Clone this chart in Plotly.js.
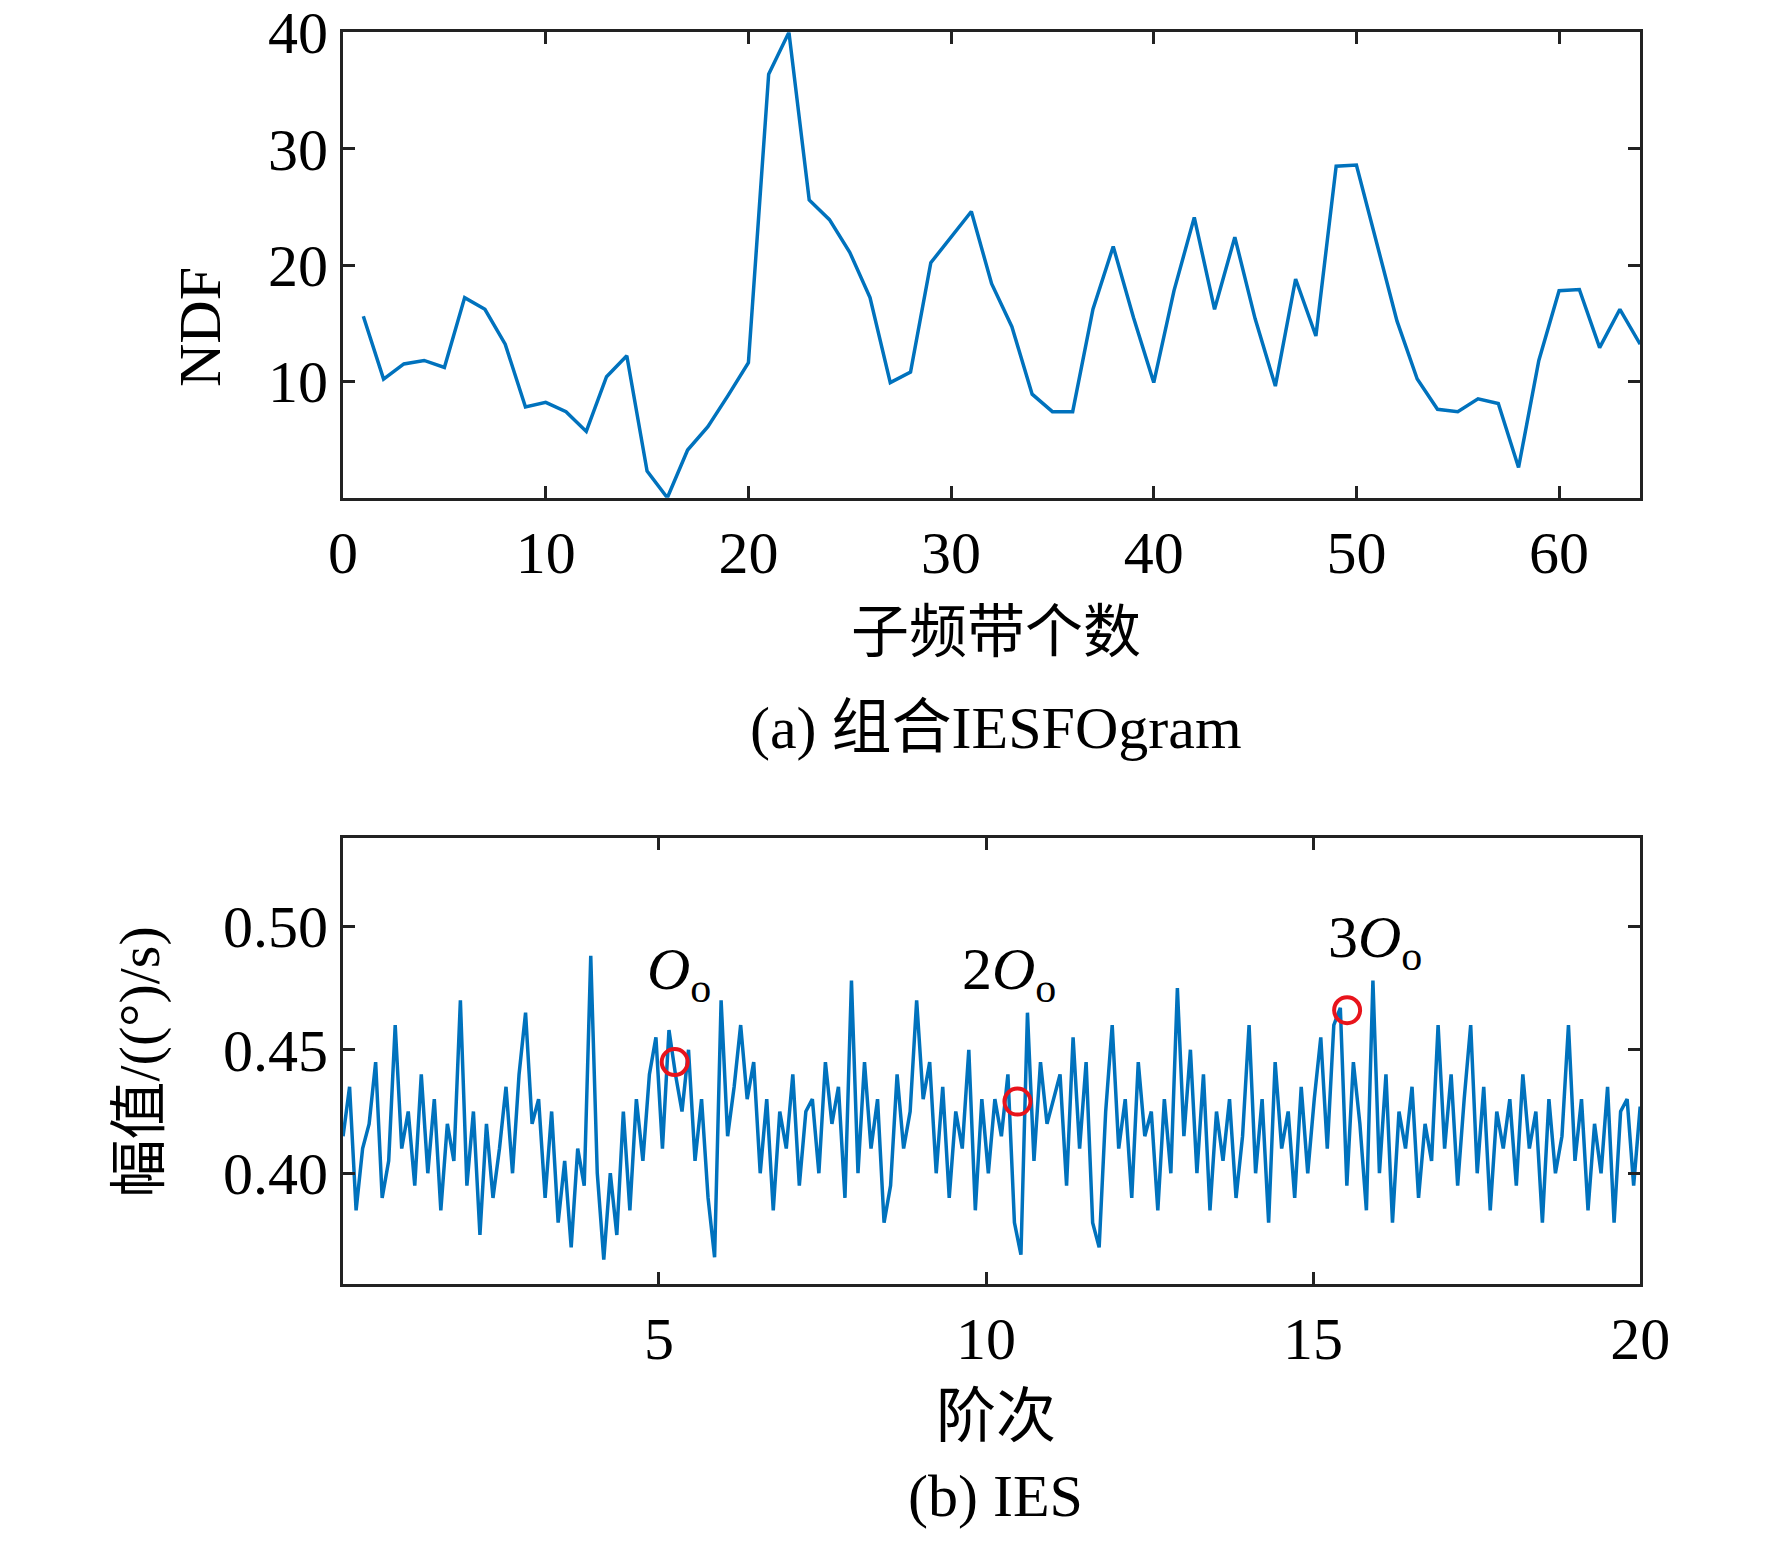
<!DOCTYPE html>
<html><head><meta charset="utf-8">
<script src="https://cdn.plot.ly/plotly-3.0.1.min.js"></script>
<style>body{margin:0;background:#fff}</style>
</head><body>
<div id="chart" style="width:1772px;height:1541px"></div>
<script>
// (a) NDF per sub-band count
const bandCount = Array.from({length: 64}, (_, i) => i + 1);
const ndf = [15.6,10.2,11.5,11.8,11.2,17.2,16.2,13.2,7.8,8.2,7.4,5.7,10.4,12.2,2.3,0,
  4.1,6.1,8.8,11.6,36.4,40,25.6,23.9,21.1,17.2,9.9,10.8,20.2,22.4,24.6,18.4,
  14.7,8.9,7.4,7.4,16.2,21.6,15.5,9.9,17.8,24.1,16.2,22.4,15.4,9.6,18.8,13.9,
  28.5,28.6,21.8,15.2,10.2,7.6,7.4,8.5,8.1,2.6,11.8,17.8,17.9,12.9,16.2,13.2];

// (b) IES amplitude vs order
const iesAmp = [
  .415,.435,.385,.41,.42,.445,.39,.405,.46,.41,
  .425,.395,.44,.40,.43,.385,.42,.405,.47,.395,
  .425,.375,.42,.39,.41,.435,.40,.44,.465,.42,
  .43,.39,.425,.38,.405,.37,.41,.395,.488,.40,
  .365,.40,.375,.425,.385,.43,.405,.44,.455,.41,
  .458,.44,.425,.45,.405,.43,.39,.366,.47,.415,
  .435,.46,.43,.445,.40,.43,.385,.425,.41,.44,
  .395,.425,.43,.40,.445,.42,.435,.39,.478,.40,
  .445,.41,.43,.38,.395,.44,.41,.425,.47,.43,
  .445,.40,.435,.39,.425,.41,.45,.385,.43,.40,
  .43,.415,.44,.38,.367,.465,.405,.445,.42,.43,
  .44,.395,.455,.41,.445,.38,.37,.425,.46,.41,
  .43,.39,.445,.415,.425,.385,.43,.40,.475,.415,
  .45,.40,.44,.385,.425,.405,.43,.39,.415,.46,
  .40,.43,.38,.445,.41,.425,.39,.435,.40,.43,
  .455,.41,.46,.467,.395,.445,.42,.385,.478,.40,
  .44,.38,.425,.41,.435,.39,.42,.405,.46,.41,
  .44,.395,.43,.46,.40,.435,.385,.425,.41,.43,
  .395,.44,.41,.425,.38,.43,.40,.415,.46,.405,
  .43,.385,.42,.40,.435,.38,.425,.43,.395,.427];
const iesOrder = iesAmp.map((_, i) => 0.17 + i * (19.83 / (iesAmp.length - 1)));

const markOrder = [5.24, 10.48, 15.52];
const markAmp = [0.445, 0.429, 0.466];
const markLabels = ['<i>O</i><sub>o</sub>', '2<i>O</i><sub>o</sub>', '3<i>O</i><sub>o</sub>'];
const labelOrder = [5.3, 10.35, 15.95];
const labelAmp = [0.481, 0.481, 0.494];

const blue = '#0072BD';
const serif = 'Liberation Serif, Times New Roman, serif';
const cjk = 'Liberation Serif, Noto Sans CJK SC, serif';
const tickFont = {family: serif, size: 60, color: '#000'};

function axisStyle(extra) {
  return Object.assign({
    showline: true, mirror: 'ticks', linecolor: '#222', linewidth: 3,
    ticks: 'inside', ticklen: 12, tickwidth: 3, tickcolor: '#222',
    showgrid: false, zeroline: false, tickfont: tickFont, fixedrange: true
  }, extra);
}

const traces = [
  {x: bandCount, y: ndf, type: 'scatter', mode: 'lines', line: {color: blue, width: 3.5}, xaxis: 'x', yaxis: 'y'},
  {x: iesOrder, y: iesAmp, type: 'scatter', mode: 'lines', line: {color: blue, width: 3.5}, xaxis: 'x2', yaxis: 'y2'},
  {x: markOrder, y: markAmp, type: 'scatter', mode: 'markers',
   marker: {symbol: 'circle-open', size: 26, color: '#e8141c', line: {width: 4, color: '#e8141c'}}, xaxis: 'x2', yaxis: 'y2'}
];

const black = '#000';
const annotations = [
  {text: '子频带个数', xref: 'paper', yref: 'paper', x: 0.562, y: 1 - 632 / 1541, showarrow: false, font: {family: cjk, size: 58, color: black}},
  {text: '(a) 组合IESFOgram', xref: 'paper', yref: 'paper', x: 0.562, y: 1 - 728 / 1541, showarrow: false, font: {family: cjk, size: 60, color: black}},
  {text: 'NDF', xref: 'paper', yref: 'paper', x: 165 / 1772, y: 1 - 265 / 1541, textangle: -90, showarrow: false, font: {family: serif, size: 60, color: black}},
  {text: '幅值/((°)/s)', xref: 'paper', yref: 'paper', x: 104 / 1772, y: 1 - 1062 / 1541, yanchor: 'middle', textangle: -90, showarrow: false, font: {family: cjk, size: 58, color: black}},
  {text: '阶次', xref: 'paper', yref: 'paper', x: 0.562, y: 1 - 1452 / 1541, showarrow: false, font: {family: cjk, size: 60, color: black}},
  {text: '(b) IES', xref: 'paper', yref: 'paper', x: 0.562, y: 1 - 1531 / 1541, showarrow: false, font: {family: cjk, size: 60, color: black}}
];
markLabels.forEach((t, i) => annotations.push({
  text: t, xref: 'x2', yref: 'y2', x: labelOrder[i], y: labelAmp[i], showarrow: false,
  font: {family: serif, size: 60, color: black}
}));

const layout = {
  width: 1772, height: 1541, margin: {l: 0, r: 0, t: 0, b: 0},
  paper_bgcolor: '#fff', plot_bgcolor: '#fff', showlegend: false,
  xaxis: axisStyle({domain: [0.1936, 0.9256], anchor: 'y', range: [0, 64], tickvals: [0, 10, 20, 30, 40, 50, 60]}),
  yaxis: axisStyle({domain: [0.677, 0.979], anchor: 'x', range: [0, 40], tickvals: [10, 20, 30, 40]}),
  xaxis2: axisStyle({domain: [0.1936, 0.9256], anchor: 'y2', range: [0.17, 20], tickvals: [5, 10, 15, 20]}),
  yaxis2: axisStyle({domain: [0.167, 0.456], anchor: 'x2', range: [0.3553, 0.5356],
    tickvals: [0.40, 0.45, 0.50], ticktext: ['0.40', '0.45', '0.50']}),
  annotations: annotations
};

Plotly.newPlot('chart', traces, layout, {staticPlot: true});
</script>
</body></html>
